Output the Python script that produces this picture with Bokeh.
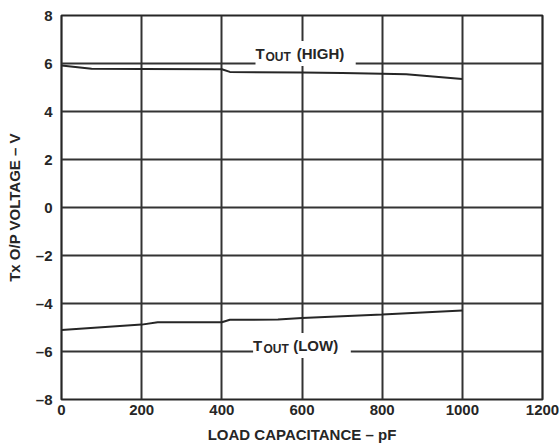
from bokeh.plotting import figure
from bokeh.models import Label, SingleIntervalTicker, Range1d
from bokeh.embed import file_html
from bokeh.resources import INLINE

# Data
cap_high = [0, 75, 200, 400, 420, 600, 700, 800, 860, 1000]
v_high = [5.92, 5.78, 5.77, 5.76, 5.65, 5.62, 5.60, 5.57, 5.55, 5.35]
cap_low = [0, 200, 240, 400, 420, 540, 600, 800, 1000]
v_low = [-5.10, -4.88, -4.78, -4.78, -4.68, -4.67, -4.60, -4.46, -4.29]

x_ticks = [0, 200, 400, 600, 800, 1000, 1200]
y_ticks = [-8, -6, -4, -2, 0, 2, 4, 6, 8]
y_tick_labels = {v: (("\u2013" + str(-v)) if v < 0 else str(v)) for v in y_ticks}

FONT = "Liberation Sans"
INK = "#262626"

p = figure(width=559, height=445, output_backend="svg", toolbar_location=None,
           x_range=Range1d(0, 1200), y_range=Range1d(-8, 8),
           min_border_left=61, min_border_right=17, min_border_top=15, min_border_bottom=46)
p.background_fill_color = "white"
p.border_fill_color = "white"
p.outline_line_color = INK
p.outline_line_width = 2.2

p.xaxis.ticker = SingleIntervalTicker(interval=200, num_minor_ticks=0)
p.yaxis.ticker = SingleIntervalTicker(interval=2, num_minor_ticks=0)
p.yaxis.major_label_overrides = y_tick_labels

for ax in (p.xaxis[0], p.yaxis[0]):
    ax.axis_line_color = None
    ax.major_tick_line_color = None
    ax.minor_tick_line_color = None
    ax.major_tick_out = 0
    ax.major_tick_in = 0
    ax.major_label_text_font = FONT
    ax.major_label_text_font_style = "bold"
    ax.major_label_text_font_size = "15px"
    ax.major_label_text_color = INK
    ax.axis_label_text_font = FONT
    ax.axis_label_text_font_style = "bold"
    ax.axis_label_text_font_size = "15px"
    ax.axis_label_text_color = INK

p.xaxis.axis_label = "LOAD CAPACITANCE \u2013 pF"
p.yaxis.axis_label = "Tx O/P VOLTAGE \u2013 V"
p.xaxis.major_label_standoff = 5
p.yaxis.major_label_standoff = 9
p.xaxis.axis_label_standoff = 8
p.yaxis.axis_label_standoff = 10

p.xgrid.grid_line_color = "#333333"
p.ygrid.grid_line_color = "#333333"
p.xgrid.grid_line_width = 2
p.ygrid.grid_line_width = 2

p.line(cap_high, v_high, line_color=INK, line_width=2)
p.line(cap_low, v_low, line_color=INK, line_width=2)

def tout_label(x_t, x_sub, x_rest, y_base, y_sub, rest):
    # white mask behind the label, hiding the grid lines
    p.add_layout(Label(x=x_t, y=y_base, text="TOUT " + rest, text_font=FONT,
                       text_font_style="bold", text_font_size="15px",
                       text_color="white", background_fill_color="white",
                       text_baseline="alphabetic", padding=4))
    p.add_layout(Label(x=x_t, y=y_base, text="T", text_font=FONT,
                       text_font_style="bold", text_font_size="15px",
                       text_color=INK, text_baseline="alphabetic"))
    p.add_layout(Label(x=x_sub, y=y_sub, text="OUT", text_font=FONT,
                       text_font_style="bold", text_font_size="12px",
                       text_color=INK, text_baseline="alphabetic"))
    p.add_layout(Label(x=x_rest, y=y_base, text=rest, text_font=FONT,
                       text_font_style="bold", text_font_size="15px",
                       text_color=INK, text_baseline="alphabetic"))

tout_label(484, 509, 587, 6.42, 6.26, "(HIGH)")
tout_label(478, 504, 578, -5.75, -5.88, "(LOW)")

open("out.html", "w").write(file_html(p, INLINE))
